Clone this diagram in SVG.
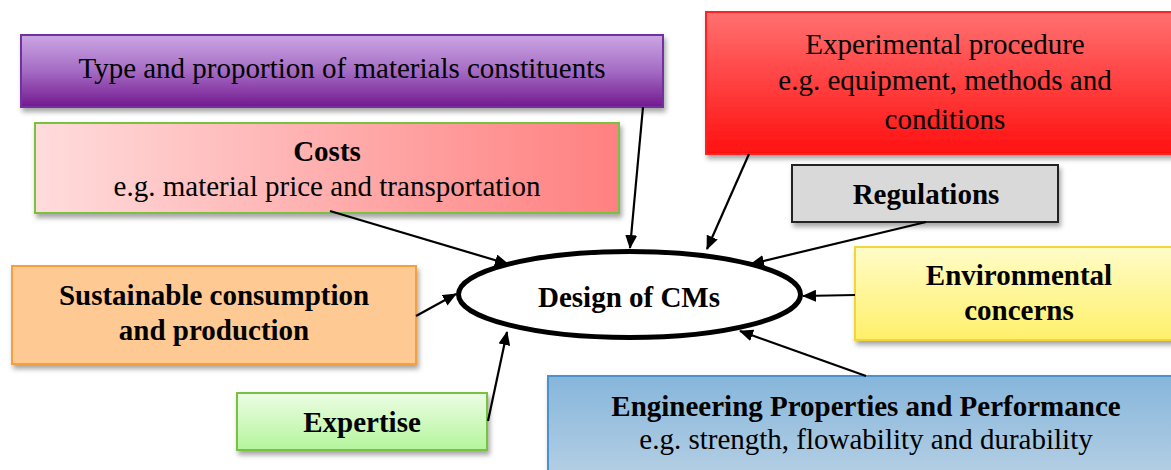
<svg xmlns="http://www.w3.org/2000/svg" width="1171" height="470" viewBox="0 0 1171 470">
<defs>
<linearGradient id="gPurple" x1="0" y1="0" x2="0" y2="1"><stop offset="0" stop-color="#cca6e4"/><stop offset="0.5" stop-color="#a46cc4"/><stop offset="1" stop-color="#74188e"/></linearGradient>
<linearGradient id="gCost" x1="0" y1="0" x2="1" y2="0"><stop offset="0" stop-color="#ffdcdc"/><stop offset="1" stop-color="#ff8080"/></linearGradient>
<linearGradient id="gRed" x1="0" y1="0" x2="0" y2="1"><stop offset="0" stop-color="#ff7070"/><stop offset="1" stop-color="#ff1010"/></linearGradient>
<linearGradient id="gYellow" x1="0" y1="0" x2="0" y2="1"><stop offset="0" stop-color="#fffcc8"/><stop offset="1" stop-color="#fff06a"/></linearGradient>
<linearGradient id="gGreen" x1="0" y1="0" x2="0" y2="1"><stop offset="0" stop-color="#ecfde4"/><stop offset="1" stop-color="#b4f59c"/></linearGradient>
<linearGradient id="gBlue" x1="0" y1="0" x2="0" y2="1"><stop offset="0" stop-color="#86b6db"/><stop offset="1" stop-color="#b4cfe4"/></linearGradient>
<filter id="sh" x="-5%" y="-10%" width="112%" height="130%"><feDropShadow dx="2" dy="4" stdDeviation="2.5" flood-color="#000" flood-opacity="0.35"/></filter>
<marker id="ah" viewBox="0 0 14 12" refX="13" refY="6" markerWidth="14" markerHeight="12" markerUnits="userSpaceOnUse" orient="auto"><path d="M0,0 L14,6 L0,12 z" fill="#000"/></marker>
</defs>
<style>
.box{filter:url(#sh);stroke-width:2}
.t{font-family:"Liberation Serif","Times New Roman",serif;font-size:29px;fill:#000;text-anchor:middle}
.b{font-weight:bold}
.c{stroke:#000;stroke-width:2.2;fill:none;marker-end:url(#ah)}
</style>
<g id="n-type">
<rect class="box" x="21" y="35" width="642" height="72" fill="url(#gPurple)" stroke="#7030a0"/>
<text class="t" x="342" y="78">Type and proportion of materials constituents</text>
</g>
<g id="n-costs">
<rect class="box" x="35" y="123" width="584" height="90" fill="url(#gCost)" stroke="#7ac143"/>
<text class="t b" x="327" y="161">Costs</text>
<text class="t" x="327" y="196">e.g. material price and transportation</text>
</g>
<g id="n-exp">
<rect class="box" x="706" y="12" width="470" height="142" fill="url(#gRed)" stroke="#ff2020"/>
<text class="t" x="945" y="54">Experimental procedure</text>
<text class="t" x="945" y="90">e.g. equipment, methods and</text>
<text class="t" x="945" y="129">conditions</text>
</g>
<g id="n-reg">
<rect class="box" x="792" y="165" width="266" height="57" fill="#d9d9d9" stroke="#222"/>
<text class="t b" x="926" y="204">Regulations</text>
</g>
<g id="n-env">
<rect class="box" x="855" y="247" width="320" height="93" fill="url(#gYellow)" stroke="#f2d43a"/>
<text class="t b" x="1019" y="285">Environmental</text>
<text class="t b" x="1019" y="320">concerns</text>
</g>
<g id="n-sus">
<rect class="box" x="12" y="266" width="404" height="98" fill="#fec992" stroke="#f5a03c"/>
<text class="t b" x="214" y="305">Sustainable consumption</text>
<text class="t b" x="214" y="340">and production</text>
</g>
<g id="n-expt">
<rect class="box" x="237" y="393" width="250" height="57" fill="url(#gGreen)" stroke="#7ac143"/>
<text class="t b" x="362" y="432">Expertise</text>
</g>
<g id="n-eng">
<rect class="box" x="548" y="376" width="628" height="100" fill="url(#gBlue)" stroke="#4a92cc"/>
<text class="t b" x="866" y="416">Engineering Properties and Performance</text>
<text class="t" x="866" y="449">e.g. strength, flowability and durability</text>
</g>
<g id="n-design">
<ellipse cx="629.5" cy="294.5" rx="171" ry="43" fill="#fff" stroke="#000" stroke-width="5"/>
<text class="t b" x="629" y="307">Design of CMs</text>
</g>
<g id="connectors">
<line class="c" x1="330" y1="211" x2="508" y2="264"/>
<line class="c" x1="643" y1="107" x2="630" y2="248"/>
<line class="c" x1="749" y1="154" x2="707" y2="249"/>
<line class="c" x1="926" y1="222" x2="751" y2="264"/>
<line class="c" x1="855" y1="295" x2="803" y2="296"/>
<line class="c" x1="866" y1="376" x2="740" y2="331"/>
<line class="c" x1="488" y1="421" x2="507" y2="332"/>
<line class="c" x1="416" y1="316" x2="456" y2="294"/>
</g>
</svg>
